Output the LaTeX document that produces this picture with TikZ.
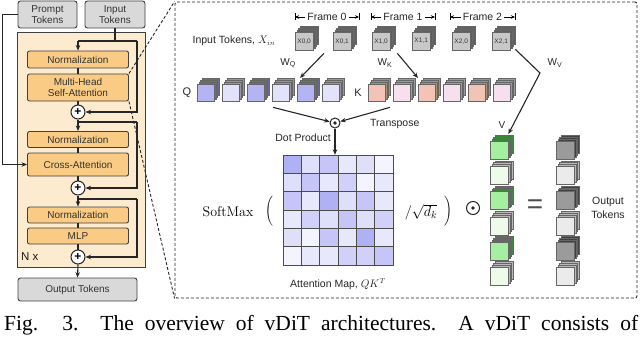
\documentclass[tikz,border=0pt]{standalone}
\usepackage[no-math]{fontspec}
\newfontfamily\hv{Liberation Sans}
\newfontfamily\tms{Liberation Serif}
\usetikzlibrary{arrows.meta,calc}
\definecolor{boxgray}{RGB}{217,217,217}
\definecolor{boxorange}{RGB}{249,203,132}
\definecolor{bgorange}{RGB}{253,235,207}
\definecolor{qdark}{RGB}{180,180,242}
\definecolor{qlight}{RGB}{226,226,250}
\definecolor{qdside}{RGB}{105,105,150}
\definecolor{qlside}{RGB}{150,150,158}
\definecolor{ksal}{RGB}{242,196,184}
\definecolor{kssal}{RGB}{168,145,112}
\definecolor{klight}{RGB}{246,224,240}
\definecolor{klside}{RGB}{155,155,160}
\definecolor{vg}{RGB}{165,240,160}
\definecolor{vgside}{RGB}{60,135,60}
\definecolor{vl}{RGB}{238,250,234}
\definecolor{vlside}{RGB}{185,185,185}
\definecolor{od}{RGB}{155,155,155}
\definecolor{odside}{RGB}{65,65,65}
\definecolor{ol}{RGB}{235,235,235}
\definecolor{olside}{RGB}{185,185,185}
\definecolor{inface}{RGB}{200,200,200}
\definecolor{inside}{RGB}{95,95,95}
\definecolor{matc}{RGB}{150,150,240}
\newcommand{\cubestk}[6]{%
  \foreach \k in {3,2,1}{\draw[cubeln,fill=#6] ({#2+\k*1.8},{#3-\k*1.8}) rectangle ++(#4,#4);}
  \node[cubeln,fill=#5,minimum size=#4,inner sep=0,anchor=north west] (#1) at (#2,#3) {};
}
\begin{document}
\begin{tikzpicture}[x=1pt,y=-1pt,
 ln/.style={line width=1.1pt, draw=black!85},
 arr/.style={ln, -{Stealth[length=5.5pt,width=4.5pt]}},
 graybox/.style={draw=black!75, line width=0.9pt, fill=boxgray, rounded corners=2.5pt, font=\hv\fontsize{10}{11.5}\selectfont, text=black!80, align=center, inner sep=0},
 obox/.style={draw=black!75, line width=0.9pt, fill=boxorange, rounded corners=2pt, minimum width=101, font=\hv\fontsize{10}{11.5}\selectfont, text=black!80, align=center, inner sep=0},
 plusnode/.style={circle, draw=black!85, line width=1pt, fill=white, minimum size=14, inner sep=0, font=\hv\bfseries\fontsize{12}{12}\selectfont},
 zoomln/.style={dash pattern=on 3pt off 2pt, line width=0.9pt, draw=black!85},
 lbl/.style={font=\hv\fontsize{10}{12}\selectfont, text=black!85, inner sep=0},
 cubeln/.style={draw=black!60, line width=0.35pt},
 cubetxt/.style={font=\hv\fontsize{6.5}{7}\selectfont, text=black!80, inner sep=0},
 odot/.style={circle, draw=black!85, line width=1pt, fill=white, inner sep=0, minimum size=10, path picture={\fill[black!85] (path picture bounding box.center) circle (1.8pt);}},
 cell/.style={draw=black!70, line width=0.6pt}
]
\useasboundingbox (0,0) rectangle (640,337);
% ---------- left panel ----------
\node[graybox, minimum width=59, minimum height=27] (prompt) at (47.5,14.5) {Prompt\\Tokens};
\node[graybox, minimum width=60, minimum height=27] (input) at (115,14.5) {Input\\Tokens};
\node[draw=black!75, line width=0.9pt, fill=bgorange, minimum width=128, minimum height=235, inner sep=0] (blk) at (81,149.5) {};
\node[obox, minimum height=17] (norm1) at (78,59.5) {Normalization};
\node[obox, minimum height=27] (mhsa) at (78,87.5) {Multi-Head\\Self-Attention};
\node[plusnode] (plus1) at (78,112) {+};
\node[obox, minimum height=16] (norm2) at (78,139.5) {Normalization};
\node[obox, minimum height=23] (cross) at (78,164.5) {Cross-Attention};
\node[plusnode] (plus2) at (78,188) {+};
\node[obox, minimum height=16] (norm3) at (78,215) {Normalization};
\node[obox, minimum height=16] (mlp) at (78,236) {MLP};
\node[plusnode] (plus3) at (78,257) {+};
\node[font=\hv\fontsize{11.5}{12}\selectfont, text=black!90, anchor=west, inner sep=0] (nx) at (21,257) {N x};
\node[graybox, minimum width=119, minimum height=23] (output) at (77.5,289.5) {Output Tokens};
\coordinate (r1) at (137,41);
\coordinate (r2) at (137,122);
\coordinate (r3) at (137,199);
\draw[ln] (input.south) -- (input.south |- r1);
\draw[ln] (r1 -| norm1.north) -- (r1);
\draw[arr] (r1 -| norm1.north) -- (norm1.north);
\draw[arr] (r1) |- (plus1.east);
\draw[ln] (norm1.south) -- (mhsa.north);
\draw[ln] (mhsa.south) -- (plus1.north);
\draw[arr] (plus1.south) -- (norm2.north);
\draw[ln] (r2 -| plus1.south) -- (r2);
\draw[arr] (r2) |- (plus2.east);
\draw[ln] (norm2.south) -- (cross.north);
\draw[ln] (cross.south) -- (plus2.north);
\draw[arr] (plus2.south) -- (norm3.north);
\draw[ln] (r3 -| plus2.south) -- (r3);
\draw[arr] (r3) |- (plus3.east);
\draw[ln] (norm3.south) -- (mlp.north);
\draw[ln] (mlp.south) -- (plus3.north);
\draw[arr] (plus3.south) -- (output.north);
\draw[arr] (prompt.west) -- ++(-15,0) |- (cross.west);
% ---------- dashed zoom box ----------
\node[zoomln, draw, rounded corners=2pt, minimum width=462, minimum height=296, inner sep=0] (dbox) at (406,150) {};
\draw[zoomln] (mhsa.north east) -- (dbox.north west);
\draw[zoomln] (mhsa.south east) -- (dbox.south west);
% ---------- frames ----------
\foreach \nm/\lx/\rx/\t in {f0/295/359/Frame 0, f1/371/435/Frame 1, f2/450/515/Frame 2}{
  \node[lbl, font=\hv\fontsize{10.5}{12}\selectfont] (\nm) at ({(\lx+\rx)/2},17) {\t};
  \coordinate (\nm l) at (\lx,17);
  \coordinate (\nm r) at (\rx,17);
  \draw[line width=0.9pt, -{Stealth[length=4pt,width=3.5pt]}] ($(\nm.west)+(-2,0)$) -- (\nm l);
  \draw[line width=0.9pt, -{Stealth[length=4pt,width=3.5pt]}] ($(\nm.east)+(2,0)$) -- (\nm r);
  \draw[line width=0.9pt] ($(\nm l)+(0,-3.5)$) -- ($(\nm l)+(0,3.5)$);
  \draw[line width=0.9pt] ($(\nm r)+(0,-3.5)$) -- ($(\nm r)+(0,3.5)$);
}
% ---------- input cubes ----------
\foreach \nm/\xx/\t in {x00/295/{0,0}, x01/333/{0,1}, x10/372/{1,0}, x11/412/{1,1}, x20/452/{2,0}, x21/492/{2,1}}{
  \cubestk{\nm}{\xx}{32}{18}{inface}{inside}
  \node[cubetxt] at (\nm) {X\t};
}
\node[lbl, font=\hv\fontsize{10.5}{12}\selectfont] (intok) at (234,41) {Input Tokens, $X_{in}$};
% ---------- Q and K ----------
\cubestk{q1}{197}{84}{17}{qdark}{qdside}
\cubestk{q2}{222}{84}{17}{qlight}{qlside}
\cubestk{q3}{247}{84}{17}{qdark}{qdside}
\cubestk{q4}{272}{84}{17}{qlight}{qlside}
\cubestk{q5}{297}{84}{17}{qdark}{qdside}
\cubestk{q6}{322}{84}{17}{qlight}{qlside}
\cubestk{k1}{368}{84}{17}{ksal}{kssal}
\cubestk{k2}{393}{84}{17}{klight}{klside}
\cubestk{k3}{418}{84}{17}{ksal}{kssal}
\cubestk{k4}{443}{84}{17}{klight}{klside}
\cubestk{k5}{468}{84}{17}{ksal}{kssal}
\cubestk{k6}{493}{84}{17}{klight}{klside}
\node[lbl, font=\hv\fontsize{11}{12}\selectfont] (ql) at (187,93) {Q};
\node[lbl, font=\hv\fontsize{11}{12}\selectfont] (kl) at (358,93) {K};
% W arrows
\draw[arr] ($(x01.south west)+(-9,3)$) -- ($(q5.north west)+(3,-6)$);
\node[lbl] (wq) at (288,63) {W\textsubscript{Q}};
\draw[arr] ($(x10.south east)+(7,3)$) -- ($(k3.north west)+(0,-6)$);
\node[lbl] (wk) at (385,63) {W\textsubscript{K}};
\coordinate (wvm) at (540,73);
\node[lbl] (wv) at (555,63) {W\textsubscript{V}};
% ---------- V and output ----------
\foreach \i/\fc/\sc/\gc/\hc in {1/vg/vgside/od/odside,2/vl/vlside/ol/olside,3/vg/vgside/od/odside,4/vl/vlside/ol/olside,5/vg/vgside/od/odside,6/vl/vlside/ol/olside}{
  \pgfmathsetmacro\yy{141+(\i-1)*25.2}
  \cubestk{v\i}{490}{\yy}{18}{\fc}{\sc}
  \cubestk{o\i}{556}{\yy}{18}{\gc}{\hc}
}
\draw[arr] ($(x21.south east)+(5,-1)$) -- (wvm) -- ($(v1.north east)+(0,-7)$);
\node[lbl] (vlab) at (502,125) {V};
% ---------- dot product ----------
\node[odot] (dot) at (335,123) {};
\draw[arr] ($(q4.south west)+(1,6)$) -- (dot);
\draw[arr] ($(k2.south west)+(-3,6)$) -- (dot);
\node[lbl, font=\hv\fontsize{10.5}{12}\selectfont, anchor=west] (tr) at (370,124) {Transpose};
% ---------- attention map ----------
\node[minimum size=110, inner sep=0] (attn) at (338,210) {};
\foreach \row [count=\r] in {{75,30,55,22,30,10},{30,55,22,45,10,22},{55,22,75,30,55,22},{22,45,30,55,30,45},{30,10,55,22,75,22},{10,22,22,45,45,55}}{
  \foreach \v [count=\c] in \row {
    \draw[cell, fill=matc!\v!white] ({283+(\c-1)*18.333},{155+(\r-1)*18.333}) rectangle ++(18.333,18.333);
  }
}
\draw[arr] (dot.south) -- (dot.south |- attn.north);
\node[lbl, font=\hv\fontsize{10.5}{12}\selectfont, anchor=east] (dp) at (331,138) {Dot Product};
\node[lbl, font=\hv\fontsize{10.5}{12}\selectfont] (am) at (338,284) {Attention Map, $QK^T$};
% ---------- softmax expression ----------
\node[inner sep=0, font=\fontsize{14}{16}\selectfont] (sm) at (228,212) {SoftMax};
\node[inner sep=0, font=\fontsize{11}{13}\selectfont] (lp) at (269,211) {$\Bigg($};
\node[inner sep=0, font=\fontsize{14}{16}\selectfont] (div) at (421,212) {$/\sqrt{d_k}$};
\node[inner sep=0, font=\fontsize{11}{13}\selectfont] (rp) at (448,211) {$\Bigg)$};
\node[odot, minimum size=13] (od2) at (473,208) {};
\node[inner sep=0, font=\hv\fontsize{28}{28}\selectfont, text=black!70] (eq) at (535,207) {=};
\node[lbl, font=\hv\fontsize{10.5}{13.5}\selectfont, align=center] (otok) at (608,208) {Output\\Tokens};
% ---------- caption ----------
\node[anchor=base west, inner sep=0, font=\tms\fontsize{21.5}{24}\selectfont] (cap) at (4,330) {\makebox[634pt][s]{Fig. 3.\ \ The overview of vDiT architectures.\ \ A vDiT consists of}};
\end{tikzpicture}
\end{document}
